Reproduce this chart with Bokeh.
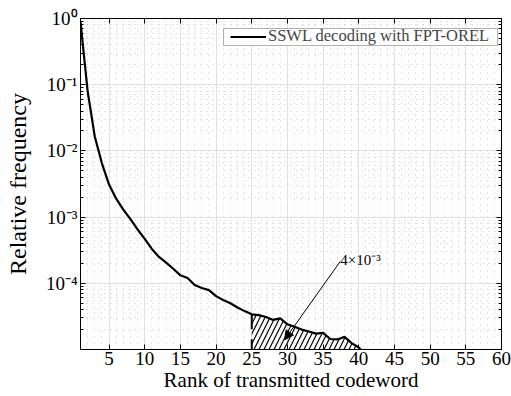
from bokeh.plotting import figure
from bokeh.models import (FixedTicker, LinearAxis, LogAxis, CustomJSTickFormatter, Label,
                          Arrow, NormalHead, Legend, LegendItem, BoxAnnotation, Range1d)
from bokeh.embed import file_html
from bokeh.resources import INLINE

# ---- data ----
ranks = list(range(1, 42))
rel_freq = [0.88, 0.08, 0.0165, 0.0065, 0.0031, 0.0019, 0.0013, 0.00093, 0.00065, 0.00047,
            0.00033, 0.00025, 0.000205, 0.000166, 0.000132, 0.00012, 0.000094, 0.000085,
            0.000079, 0.000064, 0.000056, 0.00005, 0.000043, 0.000038, 0.000034, 0.000033,
            0.000031, 0.000028, 0.0000295, 0.000024, 0.000022, 0.00002, 0.0000187,
            0.0000174, 0.0000178, 0.0000144, 0.0000142, 0.0000155, 0.0000125, 0.0000107,
            0.000008]
x_ticks = [5, 10, 15, 20, 25, 30, 35, 40, 45, 50, 55, 60]
x_minor = list(range(1, 61))
y_ticks = [1e-4, 1e-3, 1e-2, 1e-1, 1.0]
y_minor = [m * 10.0 ** e for e in range(-5, 0) for m in range(2, 10)]
legend_label = "SSWL decoding with FPT-OREL"
x_label = "Rank of transmitted codeword"
y_label = "Relative frequency"
shade_start = 25
annot_text = "4×10⁻³"

FONT = "Liberation Serif"
X_MIN, X_MAX = 1, 60
Y_MIN, Y_MAX = 1e-5, 1.0

p = figure(width=511, height=396, x_range=Range1d(X_MIN, X_MAX), y_range=Range1d(Y_MIN, Y_MAX),
           y_axis_type="log", output_backend="svg", toolbar_location=None,
           min_border_left=80, min_border_right=10, min_border_top=18, min_border_bottom=47)
p.background_fill_color = "white"
p.border_fill_color = "white"
p.outline_line_color = "black"
p.outline_line_width = 1

x_ticker = FixedTicker(ticks=x_ticks, minor_ticks=x_minor)
y_ticker = FixedTicker(ticks=y_ticks, minor_ticks=y_minor)
sup_fmt = CustomJSTickFormatter(code="""
const sup = {'-':'\u207b','0':'\u2070','1':'\u00b9','2':'\u00b2','3':'\u00b3','4':'\u2074','5':'\u2075'};
const e = Math.round(Math.log10(tick));
return '10' + String(e).split('').map(c => sup[c]).join('');
""")

xa = p.xaxis[0]
ya = p.yaxis[0]
xa.ticker = x_ticker
ya.ticker = y_ticker
ya.formatter = sup_fmt
p.xgrid.ticker = x_ticker
p.ygrid.ticker = y_ticker

for ax in (xa, ya):
    ax.major_tick_in = 5
    ax.major_tick_out = 0
    ax.minor_tick_in = 3
    ax.minor_tick_out = 0
    ax.axis_line_color = "black"
    ax.major_tick_line_color = "black"
    ax.minor_tick_line_color = "black"
    ax.major_label_text_font = FONT
    ax.major_label_text_font_size = "19px"
    ax.major_label_text_color = "black"
    ax.axis_label_text_font = FONT
    ax.axis_label_text_font_style = "normal"
    ax.axis_label_text_color = "black"
xa.minor_tick_line_color = None
xa.major_label_standoff = 2
xa.axis_label = x_label
xa.axis_label_text_font_size = "21px"
xa.axis_label_standoff = 0
ya.major_label_standoff = 3
ya.axis_label = y_label
ya.axis_label_text_font_size = "24px"
ya.axis_label_standoff = 12

blank_fmt = CustomJSTickFormatter(code="return '';")
top_ax = LinearAxis(ticker=FixedTicker(ticks=x_ticks), formatter=blank_fmt,
                    major_label_text_font_size="1px",
                    major_label_standoff=0, major_tick_in=5, major_tick_out=0,
                    minor_tick_line_color=None, axis_line_color="black")
right_ax = LogAxis(ticker=y_ticker, formatter=blank_fmt, major_label_text_font_size="1px",
                   major_label_standoff=0,
                   major_tick_in=5, major_tick_out=0, minor_tick_in=3, minor_tick_out=0,
                   axis_line_color="black")
p.add_layout(top_ax, "above")
p.add_layout(right_ax, "right")

for g in (p.xgrid[0], p.ygrid[0]):
    g.grid_line_color = "#e0e0e0"
    g.grid_line_width = 1
    g.minor_grid_line_color = "#c8c8c8"
    g.minor_grid_line_dash = "1 5"
    g.minor_grid_line_width = 1

# hatched area under the tail
i0 = ranks.index(shade_start)
tail_x = ranks[i0:]
tail_y = [max(v, Y_MIN) for v in rel_freq[i0:]]
p.varea(x=tail_x, y1=[Y_MIN] * len(tail_x), y2=tail_y, fill_alpha=0,
        hatch_pattern="/", hatch_color="black", hatch_scale=10, hatch_weight=1.2)
p.segment(x0=[shade_start], y0=[rel_freq[i0]], x1=[shade_start], y1=[Y_MIN],
          line_color="black", line_width=2, line_dash="15 10")

main = p.line(ranks, rel_freq, line_color="black", line_width=2.2)

# legend frame + legend
box = BoxAnnotation(left=143, right=417, top=321, bottom=304,
                    left_units="screen", right_units="screen",
                    top_units="screen", bottom_units="screen",
                    fill_color="white", fill_alpha=1, line_color="black", line_width=1)
p.add_layout(box)
legend = Legend(items=[LegendItem(label=legend_label, renderers=[main])],
                location=(150, 303), padding=0, margin=0, spacing=0,
                glyph_width=36, glyph_height=17, label_height=17, label_standoff=2,
                label_text_font=FONT, label_text_font_size="16.5px",
                border_line_color=None, background_fill_alpha=0)
p.add_layout(legend)

# annotation
p.add_layout(Label(x=37.4, y=10 ** -3.65, text=annot_text, text_font=FONT,
                   text_font_size="15px", text_align="left", text_baseline="alphabetic",
                   text_color="black"))
p.add_layout(Arrow(x_start=37.4, y_start=10 ** -3.67, x_end=29.6, y_end=1.4e-5,
                   line_color="black", line_width=1,
                   end=NormalHead(size=9, fill_color="black", line_color="black")))

open("out.html", "w").write(file_html(p, INLINE))
